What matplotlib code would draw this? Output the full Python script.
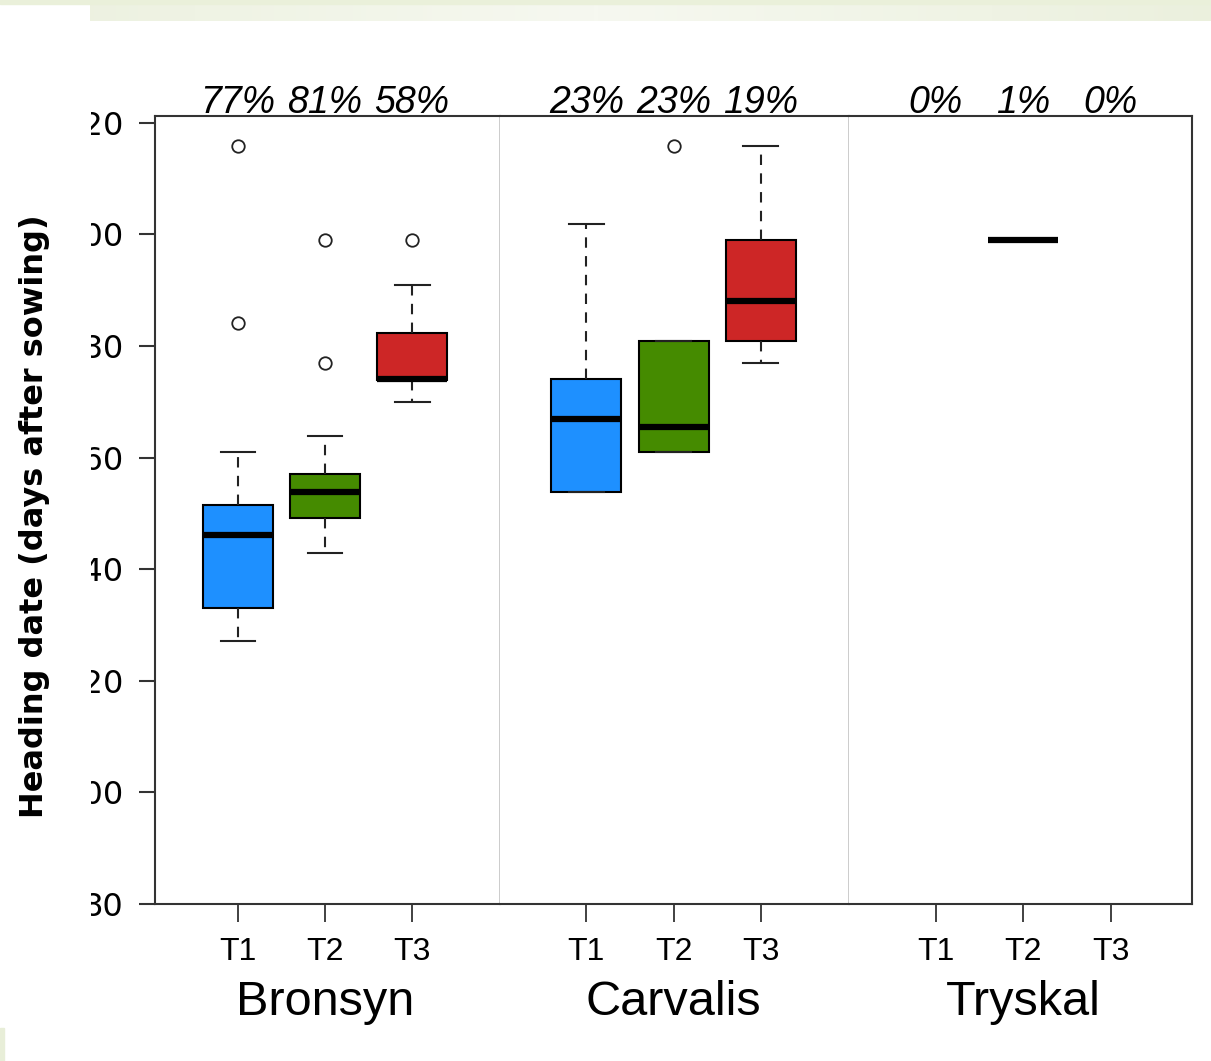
import numpy as np
import matplotlib
matplotlib.use("Agg")
import matplotlib.pyplot as plt
from matplotlib.transforms import Bbox, TransformedBbox, blended_transform_factory
from matplotlib.patches import Rectangle

# data
varieties = ["Bronsyn", "Carvalis", "Tryskal"]
treatments = ["T1", "T2", "T3"]
percent_labels = [["77%", "81%", "58%"],
                  ["23%", "23%", "19%"],
                  ["0%", "1%", "0%"]]

# (whislo, q1, med, q3, whishi, fliers); None = no data
bronsyn = [
    (127.2, 133.1, 146.1, 151.5, 161.0, [184.1, 215.8]),
    (142.9, 149.1, 153.8, 157.1, 163.9, [177.0, 198.9]),
    (169.9, 173.9, 174.1, 182.3, 190.9, [198.9]),
]
carvalis = [
    (153.9, 153.9, 166.9, 174.0, 201.9, []),
    (161.0, 161.0, 165.4, 180.9, 180.9, [215.9]),
    (177.0, 180.9, 188.0, 198.9, 215.9, []),
]
tryskal = [
    None,
    (198.9, 198.9, 198.9, 198.9, 198.9, []),
    None,
]
groups = [bronsyn, carvalis, tryskal]
colors = ["#1E90FF", "#458B00", "#CD2626"]

yticks = [80, 100, 120, 140, 160, 180, 200, 220]

W, H = 1211, 1061
fig = plt.figure(figsize=(W / 100, H / 100), dpi=100)

# slide decoration
fig.patches.append(Rectangle((0, 1 - 4 / H), 1, 4 / H, transform=fig.transFigure,
                             color="#eaf0da", zorder=0))
bg = fig.add_axes([90 / W, 1 - 21 / H, 1 - 90 / W, 21 / H])
grad = np.linspace(0, 1, 256)
grad = 1 - np.abs(grad - 0.45) * 1.4
bg.imshow(grad[None, :], aspect="auto", cmap=matplotlib.colors.LinearSegmentedColormap.from_list(
    "g", ["#e8eed8", "#f6f8f0"]), vmin=0, vmax=1)
bg.axis("off")
fig.patches.append(Rectangle((0, 0), 4 / W, 33 / H, transform=fig.transFigure,
                             color="#e8eed8", zorder=0))

panels = [(155, 500, (0.046, 4.01)), (500, 849, (0.01, 4.01)), (849, 1192, (0.005, 3.93))]
bot, top = 904, 116
spine_col = "#333333"

axes = []
for gi, (x0, x1, xl) in enumerate(panels):
    ax = fig.add_axes([x0 / W, 1 - bot / H, (x1 - x0) / W, (bot - top) / H])
    axes.append(ax)
    stats, pos, cols = [], [], []
    for ti, s in enumerate(groups[gi]):
        if s is None:
            continue
        lo, q1, med, q3, hi, fl = s
        stats.append(dict(whislo=lo, q1=q1, med=med, q3=q3, whishi=hi, fliers=fl))
        pos.append(ti + 1)
        cols.append(colors[ti])
    bp = ax.bxp(stats, positions=pos, widths=0.8, capwidths=0.4, patch_artist=True,
                boxprops=dict(edgecolor="black", linewidth=1.5),
                medianprops=dict(color="black", linewidth=4.5, solid_capstyle="butt"),
                whiskerprops=dict(color="#222222", linewidth=1.5, linestyle=(0, (5, 4))),
                capprops=dict(color="#222222", linewidth=1.5),
                flierprops=dict(marker="o", markersize=9, markerfacecolor="white",
                                markeredgecolor="#222222", markeredgewidth=1.3))
    for b, c in zip(bp["boxes"], cols):
        b.set_facecolor(c)
    ax.set_xlim(*xl)
    ax.set_ylim(80, 221.2)
    ax.set_xticks([1, 2, 3])
    ax.set_xticklabels(treatments, fontsize=23, family="Liberation Sans")
    ax.tick_params(axis="x", length=13, width=1.3, color=spine_col, pad=11)
    ax.text(2, -0.125, varieties[gi], transform=blended_transform_factory(ax.transData, ax.transAxes),
            ha="center", va="center", fontsize=35, family="Liberation Sans")
    tr = blended_transform_factory(ax.transData, ax.transAxes)
    for ti, lab in enumerate(percent_labels[gi]):
        ax.text(ti + 1, 1.004, lab, transform=tr, ha="center", va="baseline",
                fontsize=27, style="italic", family="Liberation Sans")
    for sp in ax.spines.values():
        sp.set_color(spine_col)
        sp.set_linewidth(1.5)
    if gi < 2:
        ax.spines["right"].set_color("#c8c8c8")
        ax.spines["right"].set_linewidth(1.3)
    if gi > 0:
        ax.spines["left"].set_visible(False)
        ax.set_yticks([])
    else:
        ax.set_yticks(yticks)
        ax.set_yticklabels([str(v) for v in yticks], fontsize=23, family="DejaVu Sans")
        ax.tick_params(axis="y", length=11.5, width=1.5, color=spine_col, pad=11)
        clip = TransformedBbox(Bbox([[91 / W, 0], [1, 1]]), fig.transFigure)
        for lab in ax.get_yticklabels():
            lab.set_clip_box(clip)
            lab.set_clip_on(True)

fig.text(35 / W, 1 - 516 / H, "Heading date (days after sowing)", rotation=90,
         ha="center", va="center", fontsize=23, fontweight="bold", family="DejaVu Sans")

fig.savefig("out.png", dpi=100)
